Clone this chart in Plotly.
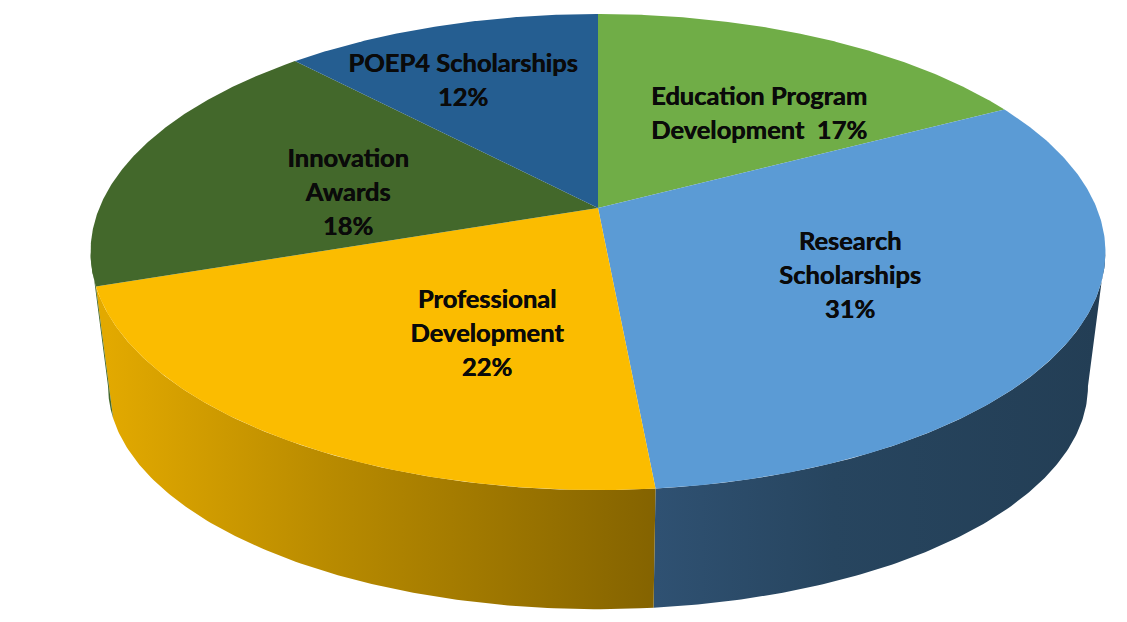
import numpy as np
import plotly.graph_objects as go

# slices run clockwise from 12 o'clock
names = ['Education Program', 'Research', 'Professional', 'Innovation', 'POEP4']
shares = [17.3, 31.2, 21.3, 18.1, 12.1]
top_colors = ['#70AD47', '#5B9BD5', '#FBBC00', '#43682B', '#255E91']

label_lines = [
    ['Education Program', 'Development  17%'],
    ['Research', 'Scholarships', '31%'],
    ['Professional', 'Development', '22%'],
    ['Innovation', 'Awards', '18%'],
    ['POEP4 Scholarships', '12%'],
]
label_x = [759, 850, 487, 348, 463]
label_y = [99, 244, 302, 161, 66]
line_gap = 34

# perspective of the disc, in page pixels
cx = 598
k = 0.185
top_a, top_b, top_y = 498.7, 229.9, 208
low_a, low_b, low_y = 481.5, 215.3, 345
tangent = np.degrees(np.arccos(-k))  # where the rim reaches its widest point


def rim(deg, a, b, cy):
    t = np.radians(deg)
    u, v = np.sin(t), -np.cos(t)
    w = 1 - k * v
    return cx + a * u / w, cy + b * v / w


def wall(start, end, colorscale, x0, x1):
    deg = np.linspace(start, end, 120)
    tx, ty = rim(deg, top_a, top_b, top_y)
    lx, ly = rim(deg[::-1], low_a, low_b, low_y)
    return go.Scatter(x=np.r_[tx, lx], y=np.r_[ty, ly], mode='lines', fill='toself',
                      line=dict(width=0), hoverinfo='skip',
                      fillgradient=dict(type='horizontal', colorscale=colorscale,
                                        start=x0, stop=x1))


edges = np.r_[0, np.cumsum(shares)] * 3.6

data = []

# side walls first, the top face goes over them
data.append(wall(tangent, edges[2], [[0, '#2F5172'], [0.4, '#27455F'], [1, '#233E55']], 656, 1100))
data.append(wall(edges[2], edges[3], [[0, '#E2A900'], [0.4, '#B98B00'], [1, '#846300']], 108, 656))
data.append(wall(edges[3], 360 - tangent, [[0, '#43682B'], [1, '#43682B']], 90, 120))

for i in range(len(shares)):
    deg = np.linspace(edges[i], edges[i + 1], 200)
    x, y = rim(deg, top_a, top_b, top_y)
    data.append(go.Scatter(x=np.r_[cx, x, cx], y=np.r_[top_y, y, top_y], mode='lines',
                           fill='toself', fillcolor=top_colors[i], line=dict(width=0),
                           name=names[i], hoverinfo='skip'))

for i, lines in enumerate(label_lines):
    data.append(go.Scatter(x=[label_x[i]] * len(lines),
                           y=[label_y[i] + j * line_gap for j in range(len(lines))],
                           mode='text', text=lines, textposition='middle center',
                           textfont=dict(family='Lato', size=25.5, color='#0A0A0A', weight='bold',
                                         shadow='0.5px 0 0 #0A0A0A'),
                           hoverinfo='skip'))

layout = go.Layout(width=1127, height=622, margin=dict(l=0, r=0, t=0, b=0),
                   paper_bgcolor='white', plot_bgcolor='white', showlegend=False,
                   xaxis=dict(range=[0, 1127], visible=False, fixedrange=True),
                   yaxis=dict(range=[622, 0], visible=False, fixedrange=True))

fig = go.Figure(data=data, layout=layout)
fig.write_html("out.html", config={'displayModeBar': False},
               post_script="document.body.style.margin='0';")
